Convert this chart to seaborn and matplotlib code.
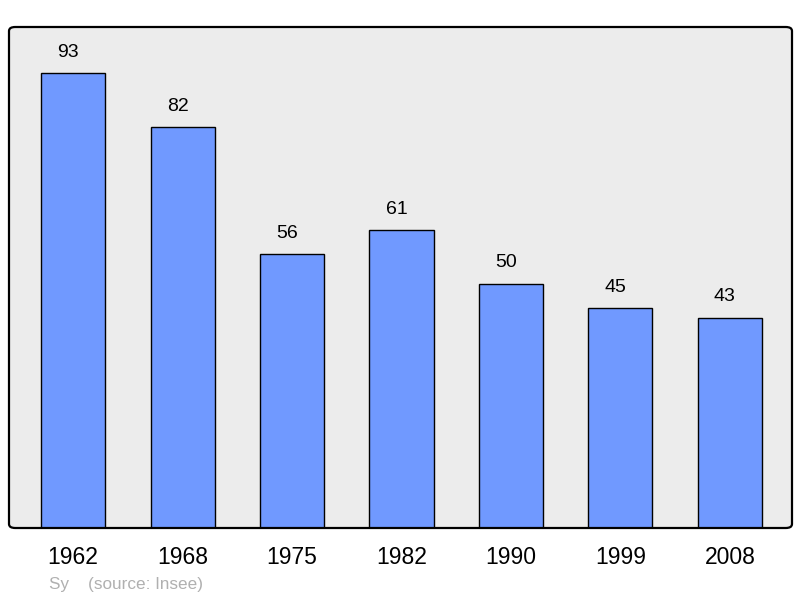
import matplotlib
matplotlib.use("Agg")
import matplotlib.pyplot as plt
import seaborn as sns
import pandas as pd
from matplotlib.patches import FancyBboxPatch

years = ["1962", "1968", "1975", "1982", "1990", "1999", "2008"]
population = [93, 82, 56, 61, 50, 45, 43]
source_text = "Sy    (source: Insee)"

sns.set_theme(style="white")
plt.rcParams['font.family'] = ['Liberation Sans', 'DejaVu Sans']

df = pd.DataFrame({"year": years, "pop": population})

fig = plt.figure(figsize=(8.0, 5.98), dpi=100)
ax = fig.add_axes([9/800, 1 - 528/598, 783/800, 501/598])
ax.set_facecolor("#ececec")

sns.barplot(data=df, x="year", y="pop", color="#7099ff", saturation=1,
            edgecolor="black", linewidth=1.0, width=0.585, ax=ax)

for i, v in enumerate(population):
    ax.annotate(str(v), (i, v), xytext=(-3.6, 15), textcoords="offset points",
                ha="center", va="center", fontsize=14, color="black")

ax.set_xlim(-0.585, 6.567)
ax.set_ylim(0, 102.5)
ax.set_xlabel("")
ax.set_ylabel("")
ax.set_yticks([])
ax.tick_params(axis="x", length=0, pad=13, labelsize=16.5, labelcolor="black")
for s in ax.spines.values():
    s.set_visible(False)

frame = FancyBboxPatch((0, 0), 1, 1, boxstyle="round,pad=0,rounding_size=0.008",
                       transform=ax.transAxes, fill=False, edgecolor="black",
                       linewidth=1.6, clip_on=False, zorder=10)
ax.add_patch(frame)

fig.text(49/800, 1 - 584/598, source_text, ha="left", va="center",
         fontsize=12.3, color="#b0b0b0")

fig.savefig("out.png", dpi=100, facecolor="white")
